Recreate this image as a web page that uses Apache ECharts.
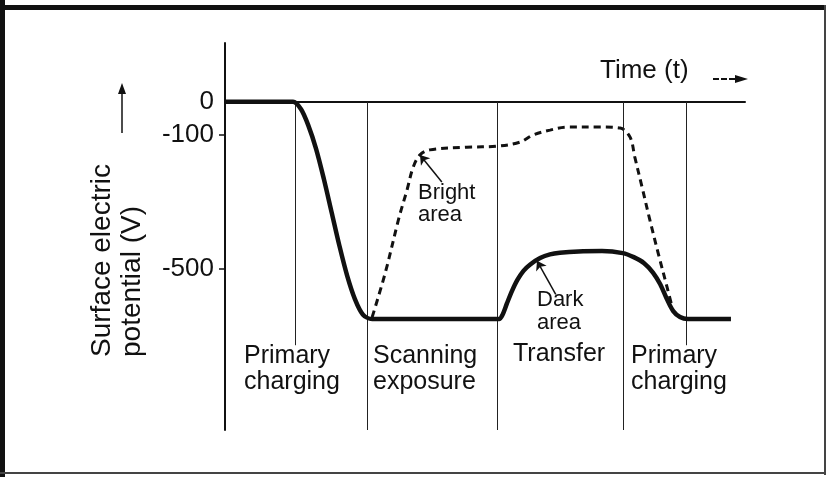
<!DOCTYPE html>
<html>
<head>
<meta charset="utf-8">
<script src="https://cdn.jsdelivr.net/npm/echarts@6/dist/echarts.min.js"></script>
<style>
  html, body { margin: 0; padding: 0; background: #fff; }
  #chart { width: 828px; height: 477px; }
</style>
</head>
<body>
<div id="chart"></div>
<script>
// time axis runs 0..100 (arbitrary units), potential in volts
const darkArea = [
  [0, 0], [13.1, 0], [14.6, -22], [16.0, -70], [17.5, -140], [19.0, -230],
  [20.5, -330], [22.0, -430], [23.5, -520], [25.0, -590], [26.5, -635],
  [28.3, -649], [52.7, -649], [53.4, -635], [54.2, -603], [55.2, -565],
  [56.2, -533], [57.4, -505], [58.7, -486], [60.6, -467], [62.5, -456],
  [64.4, -451], [68.0, -447], [72.5, -446], [76.5, -452], [78.6, -464],
  [80.6, -482], [82.3, -510], [83.7, -545], [85.0, -590], [86.2, -625],
  [87.5, -643], [89.0, -649], [97.3, -649]
];
const brightArea = [
  [28.3, -643], [30.8, -512], [33.5, -344], [35.0, -264], [36.2, -195],
  [37.5, -159], [39.4, -144], [46.5, -136], [52.3, -133], [56.7, -121],
  [59.2, -100], [62.5, -85], [65.8, -76], [72.1, -76], [76.0, -79],
  [77.9, -106], [78.8, -165], [80.2, -255], [81.7, -353], [83.3, -452],
  [85.0, -553], [86.0, -613]
];
const phaseBounds = [27.3, 52.3, 76.5];
const chargeMarks = [13.5, 88.7];
const tickLabels = [0, -100, -500];
const tickMarks = [-100, -500];
const phaseLabels = ['Primary\ncharging', 'Scanning\nexposure', 'Transfer', 'Primary\ncharging'];
const phaseLabelX = [244, 373, 513, 631];
const phaseLabelY = [343, 343, 341, 343];

const font = 'Liberation Sans, Arial, sans-serif';
const ink = '#111';

const chart = echarts.init(document.getElementById('chart'));

const boundLines = phaseBounds.map(t => [{ coord: [t, 0] }, { coord: [t, -980] }])
  .concat(chargeMarks.map(t => [{ coord: [t, 0] }, { coord: [t, -727] }]));

const texts = phaseLabels.map((s, i) => ({
  type: 'text', x: phaseLabelX[i], y: phaseLabelY[i], z: 10,
  style: { text: s, fontSize: 25, lineHeight: 26, fontFamily: font, fill: ink, align: 'left', verticalAlign: 'top' }
}));

chart.setOption({
  animation: false,
  backgroundColor: '#fff',
  grid: { left: 225, right: 83, top: 43, bottom: 47 },
  xAxis: {
    type: 'value', min: 0, max: 100,
    axisLine: { onZero: true, lineStyle: { color: ink, width: 2 } },
    axisTick: { show: false },
    axisLabel: { show: false },
    splitLine: { show: false }
  },
  yAxis: {
    type: 'value', min: -980, max: 175,
    axisLine: { show: true, onZero: false, lineStyle: { color: ink, width: 2 } },
    axisTick: { show: true, customValues: tickMarks, length: 6, lineStyle: { color: ink, width: 1.5 } },
    axisLabel: { customValues: tickLabels, margin: 11, fontSize: 26, color: ink, fontFamily: font },
    splitLine: { show: false }
  },
  series: [
    {
      name: 'Dark area', type: 'line', data: darkArea, showSymbol: false,
      smooth: 0.3, z: 5,
      lineStyle: { color: ink, width: 4.5 },
      markLine: {
        silent: true, symbol: 'none', label: { show: false },
        lineStyle: { color: '#222', width: 1, type: 'solid' },
        data: boundLines
      }
    },
    {
      name: 'Bright area', type: 'line', data: brightArea, showSymbol: false,
      smooth: 0.35, z: 4,
      lineStyle: { color: ink, width: 3, type: [7, 5] },
      markLine: {
        silent: true, symbol: ['none', 'arrow'], symbolSize: 9, label: { show: false },
        lineStyle: { color: ink, width: 1.5, type: 'solid' },
        data: [
          [{ coord: [41.7, -240] }, { coord: brightArea[5] }],
          [{ coord: [63.6, -575] }, { coord: [60.0, -475] }]
        ]
      }
    }
  ],
  graphic: [
    // frame
    { type: 'rect', shape: { x: 0, y: 0, width: 5, height: 477 }, style: { fill: ink } },
    { type: 'rect', shape: { x: 0, y: 5, width: 826, height: 5 }, style: { fill: ink } },
    { type: 'rect', shape: { x: 824, y: 5, width: 2, height: 470 }, style: { fill: '#444' } },
    { type: 'rect', shape: { x: 0, y: 472, width: 826, height: 2 }, style: { fill: '#444' } },
    // y arrow
    { type: 'line', shape: { x1: 122, y1: 133, x2: 122, y2: 92 }, style: { stroke: ink, lineWidth: 1.5 } },
    { type: 'polygon', shape: { points: [[118, 94], [122, 83], [126, 94]] }, style: { fill: ink } },
    // time arrow
    { type: 'line', shape: { x1: 713, y1: 79, x2: 737, y2: 79 }, style: { stroke: ink, lineWidth: 2, lineDash: [6, 2] } },
    { type: 'polygon', shape: { points: [[735, 75], [748, 79], [735, 83]] }, style: { fill: ink } },
    {
      type: 'text', x: 600, y: 58,
      style: { text: 'Time (t)', fontSize: 26, fontFamily: font, fill: ink, align: 'left', verticalAlign: 'top' }
    },
    {
      type: 'text', x: 87, y: 357, rotation: Math.PI / 2,
      style: { text: 'Surface electric\npotential (V)', fontSize: 28, lineHeight: 30, fontFamily: font, fill: ink, align: 'left', verticalAlign: 'top' }
    },
    {
      type: 'text', x: 418, y: 182,
      style: { text: 'Bright\narea', fontSize: 22, lineHeight: 22, fontFamily: font, fill: ink, align: 'left', verticalAlign: 'top' }
    },
    {
      type: 'text', x: 537, y: 288,
      style: { text: 'Dark\narea', fontSize: 22, lineHeight: 23, fontFamily: font, fill: ink, align: 'left', verticalAlign: 'top' }
    }
  ].concat(texts)
});
</script>
</body>
</html>
